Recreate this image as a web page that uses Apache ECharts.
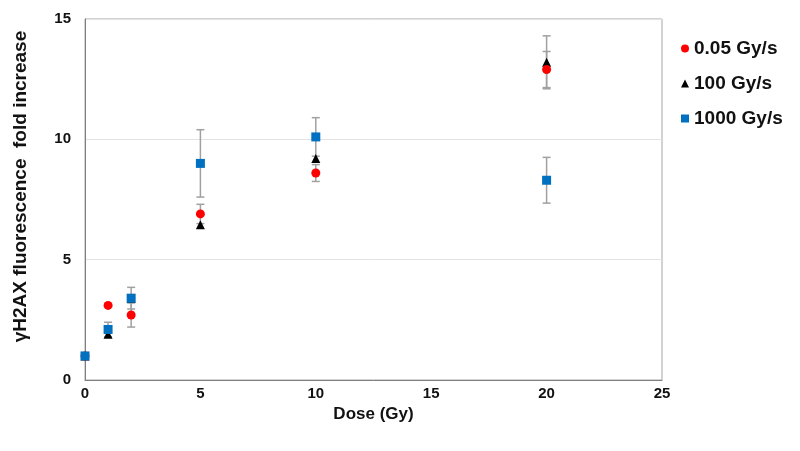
<!DOCTYPE html>
<html>
<head>
<meta charset="utf-8">
<script src="https://cdn.jsdelivr.net/npm/echarts@6/dist/echarts.min.js"></script>
<style>
html,body{margin:0;padding:0;background:#fff;}
#main{width:800px;height:451px;}
</style>
</head>
<body>
<div id="main"></div>
<script>
// Data
var doses = [0, 1, 2, 5, 10, 20];
var seriesNames = ['0.05 Gy/s', '100 Gy/s', '1000 Gy/s'];
var red005 = [1.0, 3.1, 2.7, 6.9, 8.6, 12.9];
var red005Err = [0, 0, 0.5, 0.4, 0.35, 0.75];
var black100 = [1.0, 1.9, 3.4, 6.45, 9.2, 13.2];
var black100Err = [0, 0, 0, 0, 0, 1.1];
var blue1000 = [1.0, 2.1, 3.4, 9.0, 10.1, 8.3];
var blue1000Err = [0, 0.3, 0.45, 1.4, 0.8, 0.95];
var xTicks = [0, 5, 10, 15, 20, 25];
var yTicks = [0, 5, 10, 15];

var FONT = 'Liberation Sans, Arial, sans-serif';
var TXT = '#111111';

function pts(vals) {
  return doses.map(function (d, i) { return [d, vals[i]]; });
}
function errPts(vals, errs) {
  var out = [];
  doses.forEach(function (d, i) {
    if (errs[i] > 0) out.push([d, vals[i], errs[i]]);
  });
  return out;
}
function errSeries(vals, errs) {
  return {
    type: 'custom',
    silent: true,
    z: 1,
    data: errPts(vals, errs),
    renderItem: function (params, api) {
      var x = api.value(0), y = api.value(1), e = api.value(2);
      var hi = api.coord([x, y + e]);
      var lo = api.coord([x, y - e]);
      var cw = 4;
      var st = { stroke: '#a0a0a0', lineWidth: 1.5 };
      return {
        type: 'group',
        children: [
          { type: 'line', shape: { x1: hi[0], y1: hi[1], x2: lo[0], y2: lo[1] }, style: st },
          { type: 'line', shape: { x1: hi[0] - cw, y1: hi[1], x2: hi[0] + cw, y2: hi[1] }, style: st },
          { type: 'line', shape: { x1: lo[0] - cw, y1: lo[1], x2: lo[0] + cw, y2: lo[1] }, style: st }
        ]
      };
    }
  };
}

var chart = echarts.init(document.getElementById('main'));
chart.setOption({
  backgroundColor: '#fff',
  animation: false,
  grid: { left: 85, right: 138, top: 19, bottom: 71, show: true, borderColor: '#a6a6a6', borderWidth: 1 },
  legend: {
    orient: 'vertical',
    left: 676,
    top: 34,
    itemGap: 16,
    itemWidth: 8,
    itemHeight: 8,
    textStyle: { fontFamily: FONT, fontWeight: 'bold', fontSize: 19, color: TXT },
    data: [
      { name: seriesNames[0], icon: 'circle' },
      { name: seriesNames[1], icon: 'triangle' },
      { name: seriesNames[2], icon: 'rect' }
    ]
  },
  xAxis: {
    type: 'value', min: 0, max: 25, interval: 5,
    name: 'Dose (Gy)', nameLocation: 'middle', nameGap: 18,
    nameTextStyle: { fontFamily: FONT, fontWeight: 'bold', fontSize: 17, color: TXT },
    axisLine: { show: true, lineStyle: { color: '#7f7f7f', width: 1 } },
    axisTick: { show: false },
    splitLine: { show: false },
    axisLabel: { fontFamily: FONT, fontWeight: 'bold', fontSize: 15, color: TXT, margin: 6,
      formatter: function (v) { return xTicks.indexOf(v) >= 0 ? String(v) : ''; } }
  },
  yAxis: {
    type: 'value', min: 0, max: 15, interval: 5,
    name: 'γH2AX fluorescence  fold increase', nameLocation: 'middle', nameGap: 55,
    nameTextStyle: { fontFamily: FONT, fontWeight: 'bold', fontSize: 19, color: TXT, padding: [0, 0, 0, 26] },
    axisLine: { show: true, lineStyle: { color: '#7f7f7f', width: 1 } },
    axisTick: { show: false },
    splitLine: { show: true, lineStyle: { color: '#e3e3e3', width: 1 } },
    axisLabel: { fontFamily: FONT, fontWeight: 'bold', fontSize: 15, color: TXT, margin: 14,
      formatter: function (v) { return yTicks.indexOf(v) >= 0 ? String(v) : ''; } }
  },
  series: [
    errSeries(black100, black100Err),
    errSeries(red005, red005Err),
    errSeries(blue1000, blue1000Err),
    { name: seriesNames[1], type: 'scatter', symbol: 'triangle', symbolSize: 9, z: 3,
      itemStyle: { color: '#000000', opacity: 1 }, data: pts(black100) },
    { name: seriesNames[0], type: 'scatter', symbol: 'circle', symbolSize: 9, z: 4,
      itemStyle: { color: '#ff0000', opacity: 1 }, data: pts(red005) },
    { name: seriesNames[2], type: 'scatter', symbol: 'rect', symbolSize: 9, z: 5,
      itemStyle: { color: '#0070c0', opacity: 1 }, data: pts(blue1000) }
  ]
});
</script>
</body>
</html>
